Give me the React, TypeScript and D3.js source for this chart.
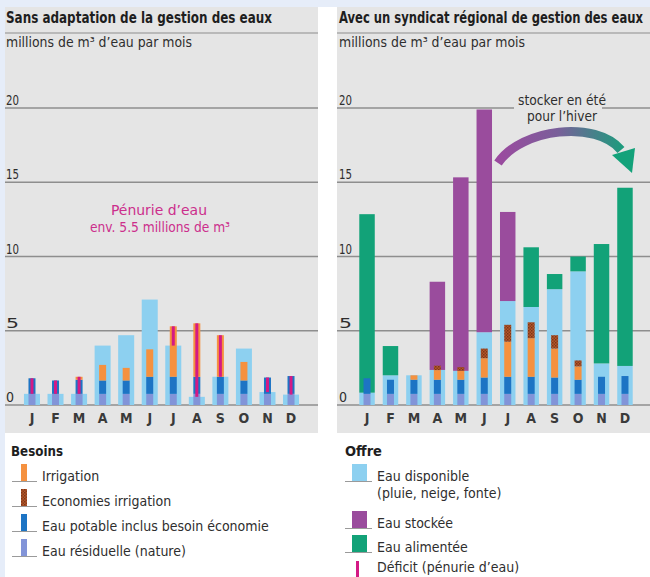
import React from 'react';
import * as d3 from 'd3';

// ---------- DATA ----------
const months = ["J", "F", "M", "A", "M", "J", "J", "A", "S", "O", "N", "D"];
const yTicks = [0, 5, 10, 15, 20];

// Left chart: "Sans adaptation"
const supplyL = [0.75, 0.75, 0.75, 4.0, 4.7, 7.1, 4.0, 0.55, 1.9, 3.8, 0.87, 0.7];
const residualL = [0.75, 0.75, 0.75, 0.75, 0.75, 0.75, 0.75, 0.75, 0.75, 0.75, 0.75, 0.75];
const potableL = [1.05, 0.9, 0.95, 0.9, 0.9, 1.15, 1.15, 1.15, 1.15, 0.9, 1.1, 1.2];
const irrigationL = [0, 0, 0.2, 1.05, 0.85, 1.85, 3.4, 3.6, 2.8, 1.25, 0, 0];

// Right chart: "Avec un syndicat"
const availableR = [0.83, 2.0, 2.0, 2.36, 2.3, 4.9, 7.0, 6.6, 7.8, 9.0, 2.8, 2.63];
const storedR = [0, 0, 0, 5.94, 13.03, 15.0, 6.0, 0, 0, 0, 0, 0];
const suppliedR = [12.02, 1.97, 0, 0, 0, 0, 0, 4.02, 1.02, 1.0, 8.04, 12.0];
const residualR = [0.75, 0.75, 0.75, 0.75, 0.75, 0.75, 0.75, 0.75, 0.75, 0.75, 0.75, 0.75];
const potableR = [1.05, 0.95, 0.95, 0.95, 0.95, 1.1, 1.15, 1.15, 1.1, 0.95, 1.15, 1.2];
const irrigationR = [0, 0, 0.3, 0.65, 0.6, 1.3, 2.36, 2.6, 1.95, 0.9, 0, 0];
const savingsR = [0, 0, 0, 0.3, 0.25, 0.65, 1.14, 1.07, 0.9, 0.4, 0, 0];

// ---------- STYLE ----------
const C = {
  page: '#e6edf9',
  panel: '#e5e5e5',
  grid: '#8e8e8e',
  text: '#2e2e2e',
  light: '#8dd0f0',
  stored: '#9a4c9d',
  supplied: '#12a278',
  potable: '#1d74c4',
  residual: '#8294d8',
  irrigation: '#f5913f',
  savings: '#b4582b',
  deficit: '#d41a85',
  penurie: '#cc2e8c',
};
const FONT = "'Liberation Sans Narrow', 'DejaVu Sans Condensed', 'Open Sans', sans-serif";

const ids = months.map((_, i) => String(i));
const yScale = d3.scaleLinear().domain([0, 20]).range([405, 108]);
const xL = d3.scaleBand().domain(ids).range([20.2, 302.8]).paddingInner(0.32).paddingOuter(0.16);
const xR = d3.scaleBand().domain(ids).range([355.3, 636.7]).paddingInner(0.34).paddingOuter(0.17);
const NARROW = 7;

type Row = { [k: string]: number };
const table = (cols: { [k: string]: number[] }): Row[] =>
  ids.map((_, i) => {
    const r: Row = { i };
    Object.keys(cols).forEach((k) => (r[k] = cols[k][i]));
    return r;
  });

const leftNeeds = table({ residual: residualL, potable: potableL, irrigation: irrigationL });
const leftNeedKeys = ['residual', 'potable', 'irrigation'];
const leftNeedStack = d3.stack<Row>().keys(leftNeedKeys)(leftNeeds);

const rightSupply = table({ available: availableR, stored: storedR, supplied: suppliedR });
const rightSupplyKeys = ['available', 'stored', 'supplied'];
const rightSupplyStack = d3.stack<Row>().keys(rightSupplyKeys)(rightSupply);

const rightNeeds = table({ residual: residualR, potable: potableR, irrigation: irrigationR, savings: savingsR });
const rightNeedKeys = ['residual', 'potable', 'irrigation', 'savings'];
const rightNeedStack = d3.stack<Row>().keys(rightNeedKeys)(rightNeeds);

const fillOf: { [k: string]: string } = {
  residual: C.residual,
  potable: C.potable,
  irrigation: C.irrigation,
  savings: 'url(#hatch)',
  available: C.light,
  stored: C.stored,
  supplied: C.supplied,
};

function Grid({ x0, x1, tx }: { x0: number; x1: number; tx: number }) {
  return (
    <g>
      {yTicks.map((t) => (
        <g key={t}>
          <line x1={x0} x2={x1} y1={yScale(t)} y2={yScale(t)} stroke={C.grid} strokeWidth={1.5} />
          <text
            x={tx}
            y={yScale(t) - 3}
            fontSize={14}
            fill={C.text}
            fontFamily={FONT}
            textLength={t === 0 ? undefined : 13}
            lengthAdjust="spacingAndGlyphs"
          >
            {t}
          </text>
        </g>
      ))}
    </g>
  );
}

function MonthLabels({ x }: { x: d3.ScaleBand<string> }) {
  return (
    <g>
      {ids.map((id, i) => (
        <text
          key={id}
          x={(x(id) as number) + x.bandwidth() / 2}
          y={423}
          textAnchor="middle"
          fontSize={14}
          fontWeight={600}
          fill="#3a3a3a"
          fontFamily={FONT}
        >
          {months[i]}
        </text>
      ))}
    </g>
  );
}

export default function App() {
  const bwL = xL.bandwidth();
  const bwR = xR.bandwidth();
  const cL = (i: number) => (xL(ids[i]) as number) + bwL / 2;
  const cR = (i: number) => (xR(ids[i]) as number) + bwR / 2;

  const needTopL = ids.map((_, i) => residualL[i] + potableL[i] + irrigationL[i]);

  // arrow geometry (annotation)
  const arrowPath = 'M498,163 C522,128 596,120 621,150';
  const tip = [632, 173];
  const base1 = [612, 155];
  const base2 = [635, 148];

  const legendLeft = [
    { label: 'Irrigation', fill: C.irrigation },
    { label: 'Economies irrigation', fill: 'url(#hatch)' },
    { label: 'Eau potable inclus besoin économie', fill: C.potable },
    { label: 'Eau résiduelle (nature)', fill: C.residual },
  ];

  return (
    <svg
      width={650}
      height={577}
      style={{ position: 'absolute', left: 0, top: 0, display: 'block' }}
      fontFamily={FONT}
    >
      <defs>
        <pattern id="hatch" width={3} height={3} patternUnits="userSpaceOnUse">
          <rect width={3} height={3} fill={C.savings} />
          <rect width={1.5} height={1.5} fill="#7d3516" />
          <rect x={1.5} y={1.5} width={1.5} height={1.5} fill="#8a3c1a" />
        </pattern>
        <linearGradient id="arrowGrad" gradientUnits="userSpaceOnUse" x1={498} y1={0} x2={630} y2={0}>
          <stop offset="0%" stopColor="#9b4a9f" />
          <stop offset="45%" stopColor="#7a5f9a" />
          <stop offset="100%" stopColor="#13a27a" />
        </linearGradient>
      </defs>

      {/* backgrounds */}
      <rect x={0} y={0} width={650} height={577} fill="#ffffff" />
      <rect x={0} y={0} width={650} height={7} fill={C.page} />
      <rect x={0} y={0} width={5} height={577} fill={C.page} />
      <rect x={5} y={7} width={313} height={426} fill={C.panel} />
      <rect x={337} y={7} width={313} height={426} fill={C.panel} />

      {/* ---------- LEFT PANEL ---------- */}
      <text x={6} y={23} fontSize={15} fontWeight={700} fill="#1e1e1e" textLength={266} lengthAdjust="spacingAndGlyphs">
        Sans adaptation de la gestion des eaux
      </text>
      <line x1={5} x2={318} y1={33} y2={33} stroke={C.grid} strokeWidth={1.2} />
      <text x={6} y={47} fontSize={14} fill={C.text} textLength={186} lengthAdjust="spacingAndGlyphs">
        millions de m³ d’eau par mois
      </text>
      <Grid x0={5} x1={318} tx={6} />

      {/* supply */}
      {supplyL.map((v, i) => (
        <rect key={'s' + i} x={xL(ids[i])} y={yScale(v)} width={bwL} height={yScale(0) - yScale(v)} fill={C.light} />
      ))}
      {/* needs */}
      {leftNeedStack.map((s) =>
        s.map((d, i) =>
          d[1] > d[0] ? (
            <rect
              key={s.key + i}
              x={cL(i) - NARROW / 2}
              y={yScale(d[1])}
              width={NARROW}
              height={yScale(d[0]) - yScale(d[1])}
              fill={fillOf[s.key]}
            />
          ) : null
        )
      )}
      {/* deficits */}
      {needTopL.map((top, i) =>
        top > supplyL[i] ? (
          <rect
            key={'d' + i}
            x={cL(i) - 1.5}
            y={yScale(top)}
            width={3}
            height={yScale(supplyL[i]) - yScale(top)}
            fill={C.deficit}
          />
        ) : null
      )}
      <MonthLabels x={xL} />
      <text x={159} y={215} textAnchor="middle" fontSize={14.5} fill={C.penurie} textLength={96} lengthAdjust="spacingAndGlyphs">
        Pénurie d’eau
      </text>
      <text x={160} y={232} textAnchor="middle" fontSize={14.5} fill={C.penurie} textLength={140} lengthAdjust="spacingAndGlyphs">
        env. 5.5 millions de m³
      </text>

      {/* ---------- RIGHT PANEL ---------- */}
      <g transform="translate(339,23) scale(0.86,1)">
        <text x={0} y={0} fontSize={15} fontWeight={700} fill="#1e1e1e">
          Avec un syndicat régional de gestion des eaux
        </text>
      </g>
      <line x1={337} x2={650} y1={33} y2={33} stroke={C.grid} strokeWidth={1.2} />
      <text x={339} y={47} fontSize={14} fill={C.text} textLength={186} lengthAdjust="spacingAndGlyphs">
        millions de m³ d’eau par mois
      </text>
      <Grid x0={337} x1={650} tx={339} />

      {rightSupplyStack.map((s) =>
        s.map((d, i) =>
          d[1] > d[0] ? (
            <rect
              key={s.key + i}
              x={xR(ids[i])}
              y={yScale(d[1])}
              width={bwR}
              height={yScale(d[0]) - yScale(d[1])}
              fill={fillOf[s.key]}
            />
          ) : null
        )
      )}
      {rightNeedStack.map((s) =>
        s.map((d, i) =>
          d[1] > d[0] ? (
            <rect
              key={'n' + s.key + i}
              x={cR(i) - NARROW / 2}
              y={yScale(d[1])}
              width={NARROW}
              height={yScale(d[0]) - yScale(d[1])}
              fill={fillOf[s.key]}
            />
          ) : null
        )
      )}
      <MonthLabels x={xR} />

      {/* annotation */}
      <rect x={514} y={93} width={88} height={32} fill={C.panel} />
      <text x={562} y={105} textAnchor="middle" fontSize={14} fill={C.text} textLength={88} lengthAdjust="spacingAndGlyphs">
        stocker en été
      </text>
      <text x={562} y={121} textAnchor="middle" fontSize={14} fill={C.text} textLength={70} lengthAdjust="spacingAndGlyphs">
        pour l’hiver
      </text>
      <path d={arrowPath} fill="none" stroke="url(#arrowGrad)" strokeWidth={9} />
      <polygon points={[base1, tip, base2].map((p) => p.join(',')).join(' ')} fill="#13a27a" />

      {/* ---------- LEGENDS ---------- */}
      <text x={11} y={456} fontSize={14.5} fontWeight={700} fill="#1e1e1e" textLength={52} lengthAdjust="spacingAndGlyphs">
        Besoins
      </text>
      {legendLeft.map((it, k) => {
        const by = 481 + k * 25;
        return (
          <g key={it.label}>
            <rect x={21} y={by - 17} width={6} height={17} fill={it.fill} />
            <line x1={12} x2={37} y1={by + 0.5} y2={by + 0.5} stroke="#9a9a9a" strokeWidth={1} />
            <text x={42} y={by} fontSize={14} fill={C.text}>
              {it.label}
            </text>
          </g>
        );
      })}

      <text x={345} y={456} fontSize={14.5} fontWeight={700} fill="#1e1e1e">
        Offre
      </text>
      <rect x={352} y={464} width={15} height={17} fill={C.light} />
      <line x1={345} x2={372} y1={481.5} y2={481.5} stroke="#9a9a9a" strokeWidth={1} />
      <text x={377} y={481} fontSize={14} fill={C.text}>
        Eau disponible
      </text>
      <text x={377} y={498} fontSize={14} fill={C.text}>
        (pluie, neige, fonte)
      </text>
      <rect x={352} y={511} width={15} height={17} fill={C.stored} />
      <line x1={345} x2={372} y1={528.5} y2={528.5} stroke="#9a9a9a" strokeWidth={1} />
      <text x={377} y={528} fontSize={14} fill={C.text}>
        Eau stockée
      </text>
      <rect x={352} y={535} width={15} height={17} fill={C.supplied} />
      <line x1={345} x2={372} y1={552.5} y2={552.5} stroke="#9a9a9a" strokeWidth={1} />
      <text x={377} y={552} fontSize={14} fill={C.text}>
        Eau alimentée
      </text>
      <rect x={356} y={561} width={3} height={16} fill={C.deficit} />
      <text x={377} y={572} fontSize={14} fill={C.text}>
        Déficit (pénurie d’eau)
      </text>
    </svg>
  );
}
